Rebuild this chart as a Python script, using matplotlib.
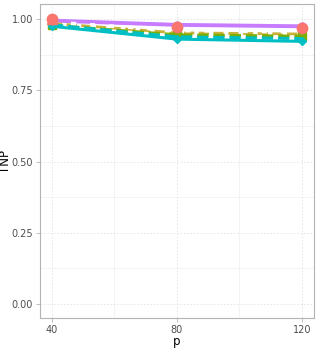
import matplotlib
matplotlib.use("Agg")
import matplotlib.pyplot as plt
import numpy as np

p = [40, 80, 120]
# TNP per method
tnp_purple = [0.995, 0.980, 0.975]
tnp_salmon = [1.000, 0.972, 0.968]
tnp_white = [0.990, 0.960, 0.955]
tnp_olive = [0.985, 0.952, 0.948]
tnp_green = [0.978, 0.945, 0.940]
tnp_teal_d = [0.980, 0.938, 0.932]
tnp_teal = [0.975, 0.930, 0.922]

fig = plt.figure(figsize=(3.19, 3.48), dpi=100)
ax = fig.add_axes([0.125, 0.086, 0.859, 0.902])

ax.plot(p, tnp_purple, color="#C77CFF", lw=2.8, marker="o", ms=5, zorder=3)
ax.plot(p, tnp_olive, color="#C9B23A", lw=2, ls="--", zorder=3)
ax.plot(p, tnp_green, color="#7CAE00", lw=2.2, ls="--", marker="s", ms=6, zorder=4)
ax.plot(p, tnp_teal_d, color="#00BFC4", lw=2.2, ls="--", zorder=4)
ax.plot(p, tnp_teal, color="#00BFC4", lw=2.2, marker="D", ms=4.5, zorder=5)
ax.plot(p, tnp_white, color="white", lw=2.5, ls=(0, (1.5, 4)), zorder=6)
ax.plot(p, tnp_salmon, color="#F8766D", lw=0, marker="o", ms=7.5, zorder=7)
ax.plot(p[:1], tnp_salmon[:1], color="#F8766D", lw=0, marker="^", ms=7, zorder=7)

ax.set_xlim(36.16, 123.84)
ax.set_ylim(-0.049, 1.0526)
ax.set_xticks([40, 80, 120])
ax.set_yticks([0, 0.25, 0.5, 0.75, 1.0])
ax.set_yticklabels(["0.00", "0.25", "0.50", "0.75", "1.00"])
ax.set_xticks([60, 100], minor=True)
ax.set_yticks([0.125, 0.375, 0.625, 0.875], minor=True)

ax.grid(which="major", color="#E3E3E3", lw=0.6, ls=(0, (2, 2)))
ax.grid(which="minor", color="#EEEEEE", lw=0.5)
ax.set_axisbelow(True)
for s in ax.spines.values():
    s.set_color("#B3B3B3")
    s.set_linewidth(0.8)
ax.tick_params(which="major", colors="#B3B3B3", labelcolor="#4D4D4D", labelsize=7, length=3, width=0.6, pad=2)
ax.tick_params(which="minor", length=0)
ax.set_xlabel("p", fontsize=8.5)
ax.set_ylabel("TNP", fontsize=8.5)
ax.xaxis.set_label_coords(0.5, -0.055)
ax.yaxis.set_label_coords(-0.1, 0.5)

fig.savefig("out.png", dpi=100)
